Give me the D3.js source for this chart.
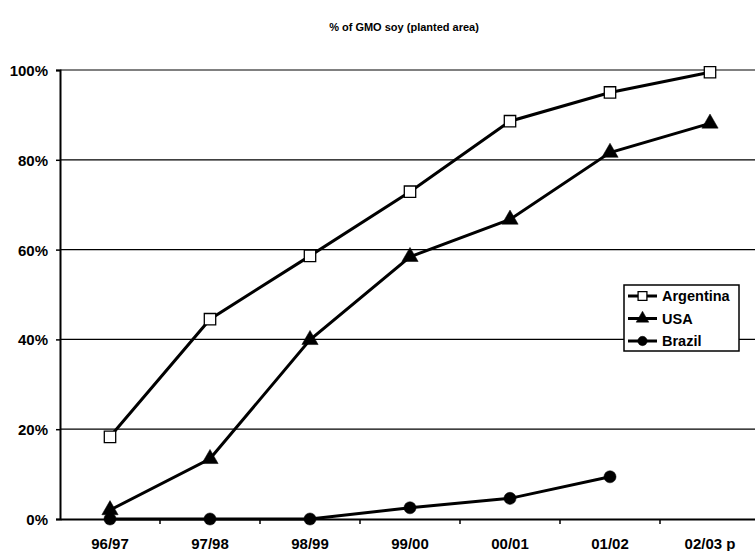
<!DOCTYPE html>
<html><head><meta charset="utf-8">
<script src="https://cdn.jsdelivr.net/npm/d3@7"></script>
<style>body{margin:0;background:#fff}svg{display:block}text{font-family:"Liberation Sans",Arial,sans-serif;font-weight:bold;fill:#000}</style>
</head><body><svg id="c" width="755" height="551"></svg>
<script>
const categories = ["96/97","97/98","98/99","99/00","00/01","01/02","02/03 p"];
const argentina = [18.3, 44.5, 58.6, 72.9, 88.6, 95.0, 99.5];
const usa = [2.0, 13.4, 39.9, 58.4, 66.7, 81.6, 88.1];
const brazil = [0, 0, 0, 2.5, 4.6, 9.4, null];
const yTicks = [0, 20, 40, 60, 80, 100];
const title = "% of GMO soy (planted area)";

const FF = '"Liberation Sans",Arial,sans-serif';
const svg = d3.select("#c");
const x = d3.scaleBand().domain(categories).range([60, 760]);
const y = d3.scaleLinear().domain([0, 100]).range([519, 70]);

svg.append("text").attr("x", 404).attr("y", 31).attr("text-anchor","middle").attr("font-size", 11).text(title);

// gridlines
svg.append("g").selectAll("line").data(yTicks.filter(d=>d>0)).join("line")
  .attr("x1", 60).attr("x2", 760).attr("y1", d=>y(d)).attr("y2", d=>y(d))
  .attr("stroke", d=>d===100?"#808080":"#000").attr("stroke-width", d=>d===100?2:1.2);

// y axis
const ya = svg.append("g").attr("transform","translate(60,0)")
  .call(d3.axisLeft(y).tickValues(yTicks).tickFormat(d=>d+"%").tickSize(4).tickPadding(8));
ya.select(".domain").attr("stroke","#000").attr("stroke-width",2);
ya.selectAll(".tick line").attr("stroke","#000").attr("stroke-width",1.5);
ya.selectAll(".tick text").attr("font-size",15).attr("font-family",FF).attr("font-weight","bold").attr("fill","#000").attr("dy","0.36em");

// x axis
const xa = svg.append("g").attr("transform","translate(0,519)")
  .call(d3.axisBottom(x).tickSize(0).tickPadding(0));
xa.select(".domain").attr("stroke","#000").attr("stroke-width",2);
xa.selectAll(".tick text").attr("font-size",15).attr("font-family",FF).attr("font-weight","bold").attr("fill","#000").attr("dy",null).attr("y",30);
xa.selectAll("line.bt").data(categories).join("line").attr("class","bt")
  .attr("x1", d=>x(d)+x.bandwidth()).attr("x2",d=>x(d)+x.bandwidth())
  .attr("y1",0).attr("y2",5).attr("stroke","#000").attr("stroke-width",1.5);

const cx = d => x(d) + x.bandwidth()/2;
const line = d3.line().defined(d=>d.v!=null).x(d=>cx(d.c)).y(d=>y(d.v));
const series = [
  {name:"Argentina", values: argentina, sym: d3.symbolSquare, size: 130, fill:"#fff"},
  {name:"USA", values: usa, sym: d3.symbolTriangle, size: 115, fill:"#000"},
  {name:"Brazil", values: brazil, sym: d3.symbolCircle, size: 115, fill:"#000"}
];
series.forEach(s=>{
  const pts = categories.map((c,i)=>({c, v:s.values[i]}));
  svg.append("path").datum(pts).attr("d", line).attr("fill","none").attr("stroke","#000").attr("stroke-width",3);
  svg.append("g").selectAll("path").data(pts.filter(p=>p.v!=null)).join("path")
    .attr("transform", p=>`translate(${cx(p.c)},${y(p.v)})`)
    .attr("d", d3.symbol().type(s.sym).size(s.size))
    .attr("fill", s.fill).attr("stroke","#000").attr("stroke-width", s.fill==="#fff"?1.3:0.5);
});

// legend
const lg = svg.append("g").attr("transform","translate(624,285)");
lg.append("rect").attr("width",115).attr("height",66).attr("fill","#fff").attr("stroke","#000").attr("stroke-width",1.5);
series.forEach((s,i)=>{
  const yy = 11 + i*22.5;
  lg.append("line").attr("x1",4).attr("x2",33).attr("y1",yy).attr("y2",yy).attr("stroke","#000").attr("stroke-width",3);
  lg.append("path").attr("transform",`translate(18.5,${yy})`).attr("d", d3.symbol().type(s.sym).size(s.size*0.6))
    .attr("fill", s.fill).attr("stroke","#000").attr("stroke-width", s.fill==="#fff"?1.3:0.5);
  lg.append("text").attr("x",38).attr("y",yy+5.3).attr("font-size",14.5).text(s.name);
});
</script></body></html>
